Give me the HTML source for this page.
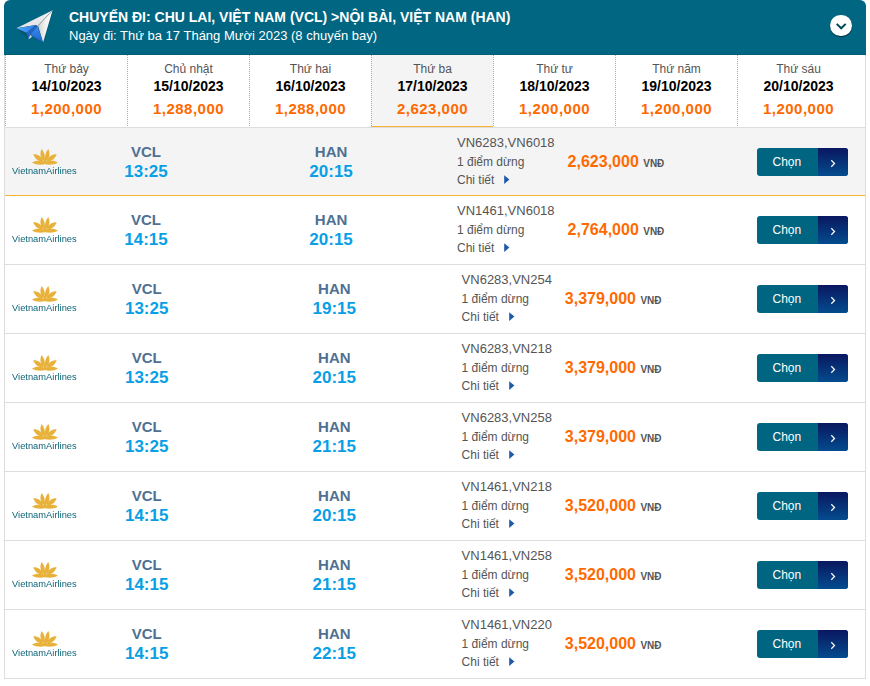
<!DOCTYPE html><html><head><meta charset="utf-8"><style>
*{margin:0;padding:0;box-sizing:border-box}
html,body{width:870px;height:686px;overflow:hidden;background:#fff}
body{position:relative;font-family:"Liberation Sans", sans-serif}
.a{position:absolute;white-space:nowrap}
.c{text-align:center}
#hdr{position:absolute;left:4px;top:0;width:862px;height:55px;background:#006682;border-radius:6px 6px 0 0}
#hdr .bl{position:absolute;left:0;right:0;bottom:0;height:1px;background:#005d78}
.t1{font-size:14px;font-weight:bold;color:#fff;line-height:14px}
.t2{font-size:13px;color:#fff;line-height:13px}
.frame{position:absolute;left:4px;top:55px;width:862px;height:624px;border:1px solid #ddd;border-top:0}
.tab{position:absolute;top:55px;width:122px;height:71px;border-left:1px dotted #aaa}
.dn{font-size:12px;color:#555;line-height:12px}
.dd{font-size:14px;font-weight:bold;color:#000;line-height:14px}
.dp{font-size:15px;font-weight:bold;color:#ff6a00;line-height:15px;letter-spacing:0.5px}
.hl{position:absolute;left:5px;width:860px;height:1px;background:#ddd}
.ap{font-size:15px;font-weight:bold;color:#4f7092;line-height:15px}
.tm{font-size:17px;font-weight:bold;color:#089fe6;line-height:17px}
.fc{font-size:13px;color:#555;line-height:13px}
.fs{font-size:12px;color:#555;line-height:12px}
.pr{font-size:16px;font-weight:bold;color:#ff6a00;line-height:16px}
.vnd{font-size:10px;font-weight:bold;color:#555}
.btn{position:absolute;left:757px;width:91px;height:28px;border-radius:3px;overflow:hidden;background:#006580}
.btn .r{position:absolute;left:61px;top:0;width:30px;height:28px;background:linear-gradient(#0a1760,#034c8e)}
.btn .tx{position:absolute;left:-0.7px;top:0;width:61px;text-align:center;font-size:12px;color:#fff;line-height:28px}
.la{font-size:9.3px;color:#0e6477;line-height:9px;letter-spacing:0.02px;will-change:transform}
</style></head><body>
<div id="hdr"><div class="bl"></div></div>
<svg class="a" style="left:0;top:0" width="60" height="50" viewBox="0 0 60 50">
<defs><linearGradient id="gw" x1="0" y1="0" x2="0.6" y2="1"><stop offset="0" stop-color="#ffffff"/><stop offset="1" stop-color="#dedede"/></linearGradient>
<linearGradient id="gr" x1="0" y1="0" x2="1" y2="0"><stop offset="0" stop-color="#cfcfcf"/><stop offset="0.5" stop-color="#f2f2f2"/><stop offset="1" stop-color="#ffffff"/></linearGradient>
<linearGradient id="gb" x1="0" y1="0" x2="1" y2="0"><stop offset="0" stop-color="#52a8ff"/><stop offset="1" stop-color="#2d7be3"/></linearGradient>
<linearGradient id="gl" x1="0" y1="0" x2="0" y2="1"><stop offset="0" stop-color="#3b8cef"/><stop offset="1" stop-color="#1d62cc"/></linearGradient></defs>
<polygon points="16.9,29 53.2,10.9 43.6,43.4 30.7,35.5 28.8,40.3" fill="#003a4a" opacity="0.3"/>
<polygon points="16.4,28.3 52.6,10.3 37.5,26.3 36.1,25.1" fill="url(#gw)"/>
<polygon points="52.6,10.3 43.1,42.6 38.3,26.5 37.5,26.3" fill="url(#gr)"/>
<polygon points="16.4,28.3 36.1,25.1 26.7,32.7" fill="url(#gb)"/>
<polygon points="26.7,32.7 36.1,25.1 37.5,26.3 30.2,34.7 28.3,39.5" fill="#2463c2"/>
<polygon points="37.5,26.3 43.1,42.6 30.2,34.7" fill="url(#gl)"/>
<polygon points="28.3,39.5 32,36.7 30.2,35.1" fill="#e0e0e0"/>
<line x1="52" y1="11" x2="37.5" y2="26.3" stroke="#8f8f8f" stroke-width="0.7"/>
</svg>
<div class="a t1" style="left:69px;top:10px">CHUYẾN ĐI: CHU LAI, VIỆT NAM (VCL) &gt;NỘI BÀI, VIỆT NAM (HAN)</div>
<div class="a t2" style="left:69px;top:28.5px">Ngày đi: Thứ ba 17 Tháng Mười 2023 (8 chuyến bay)</div>
<div class="a" style="left:830.4px;top:14.6px;width:21.7px;height:21.7px;border-radius:50%;background:#fff;box-shadow:0 1px 1px rgba(0,0,0,.55)"></div>
<svg class="a" style="left:830px;top:14px" width="22" height="22" viewBox="0 0 22 22"><polyline points="6.7,9.9 11.2,14.3 15.7,9.9" fill="none" stroke="#004559" stroke-width="2"/></svg>
<div class="frame"></div>
<div class="hl" style="top:127px"></div>
<div class="tab" style="left:5px"></div>
<div class="a c dn" style="left:6px;width:121px;top:62.5px">Thứ bảy</div>
<div class="a c dd" style="left:6px;width:121px;top:79px">14/10/2023</div>
<div class="a c dp" style="left:6px;width:121px;top:101px">1,200,000</div>
<div class="tab" style="left:127px"></div>
<div class="a c dn" style="left:128px;width:121px;top:62.5px">Chủ nhật</div>
<div class="a c dd" style="left:128px;width:121px;top:79px">15/10/2023</div>
<div class="a c dp" style="left:128px;width:121px;top:101px">1,288,000</div>
<div class="tab" style="left:249px"></div>
<div class="a c dn" style="left:250px;width:121px;top:62.5px">Thứ hai</div>
<div class="a c dd" style="left:250px;width:121px;top:79px">16/10/2023</div>
<div class="a c dp" style="left:250px;width:121px;top:101px">1,288,000</div>
<div class="a" style="left:371px;top:55px;width:122px;height:71px;background:#f4f4f4"></div>
<div class="a" style="left:371px;top:126px;width:122px;height:1px;background:#fbb431"></div>
<div class="tab" style="left:371px"></div>
<div class="a c dn" style="left:372px;width:121px;top:62.5px">Thứ ba</div>
<div class="a c dd" style="left:372px;width:121px;top:79px">17/10/2023</div>
<div class="a c dp" style="left:372px;width:121px;top:101px">2,623,000</div>
<div class="tab" style="left:493px"></div>
<div class="a c dn" style="left:494px;width:121px;top:62.5px">Thứ tư</div>
<div class="a c dd" style="left:494px;width:121px;top:79px">18/10/2023</div>
<div class="a c dp" style="left:494px;width:121px;top:101px">1,200,000</div>
<div class="tab" style="left:615px"></div>
<div class="a c dn" style="left:616px;width:121px;top:62.5px">Thứ năm</div>
<div class="a c dd" style="left:616px;width:121px;top:79px">19/10/2023</div>
<div class="a c dp" style="left:616px;width:121px;top:101px">1,200,000</div>
<div class="tab" style="left:737px"></div>
<div class="a c dn" style="left:738px;width:121px;top:62.5px">Thứ sáu</div>
<div class="a c dd" style="left:738px;width:121px;top:79px">20/10/2023</div>
<div class="a c dp" style="left:738px;width:121px;top:101px">1,200,000</div>
<div class="a" style="left:5px;top:128px;width:860px;height:67px;background:#f4f4f4"></div>
<div class="hl" style="top:195px;background:#fbb431"></div>
<svg class="a" style="left:31.8px;top:148.8px" width="26" height="16" viewBox="0 0 26 16" fill="#e8b23a"><path d="M12.7,12.2 C9.2,10.6 7,6.2 9.5,0.1 C11.8,2.5 13.6,6.5 12.7,12.2 Z"/>
<path d="M13.2,12.2 C16.7,10.6 18.9,6.2 16.4,0.1 C14.1,2.5 12.3,6.5 13.2,12.2 Z"/>
<path d="M12,12.9 C7.5,12.8 3,10.5 1.2,5.3 C5.5,5 10,7.5 12,12.9 Z"/>
<path d="M13.9,12.9 C18.4,12.8 22.9,10.5 24.7,5.3 C20.4,5 15.9,7.5 13.9,12.9 Z"/>
<path d="M12.95,13.6 L12.95,15.3 C8.5,16.2 3.2,15.8 0,13.8 C3.5,11.3 9,11.2 12.95,13.6 Z"/>
<path d="M12.95,13.6 L12.95,15.3 C17.4,16.2 22.7,15.8 25.9,13.8 C22.4,11.3 16.9,11.2 12.95,13.6 Z"/>
<rect x="11.9" y="10" width="2.1" height="4"/></svg>
<div class="a la" style="left:12.3px;top:166.5px">VietnamAirlines</div>
<div class="a c ap" style="left:106px;width:80px;top:143.5px">VCL</div>
<div class="a c tm" style="left:106px;width:80px;top:163px">13:25</div>
<div class="a c ap" style="left:291.1px;width:80px;top:143.5px">HAN</div>
<div class="a c tm" style="left:291.1px;width:80px;top:163px">20:15</div>
<div class="a fc" style="left:457px;top:136px">VN6283,VN6018</div>
<div class="a fs" style="left:457px;top:155.5px">1 điểm dừng</div>
<div class="a fs" style="left:457px;top:174.4px">Chi tiết</div>
<svg class="a" style="left:504px;top:175px" width="6" height="10" viewBox="0 0 6 10"><polygon points="0.2,0.2 5.4,4.6 0.2,9" fill="#1e5aa8"/></svg>
<div class="a pr" style="left:567.6px;top:154px">2,623,000 <span class="vnd">VNĐ</span></div>
<div class="btn" style="top:148px"><div class="tx">Chọn</div><div class="r"></div></div>
<svg class="a" style="left:829px;top:159px" width="8" height="9" viewBox="0 0 8 9"><polyline points="2.3,1.3 5.5,4.5 2.3,7.7" fill="none" stroke="#fff" stroke-width="1.25"/></svg>
<div class="hl" style="top:264px"></div>
<svg class="a" style="left:31.8px;top:216.8px" width="26" height="16" viewBox="0 0 26 16" fill="#e8b23a"><path d="M12.7,12.2 C9.2,10.6 7,6.2 9.5,0.1 C11.8,2.5 13.6,6.5 12.7,12.2 Z"/>
<path d="M13.2,12.2 C16.7,10.6 18.9,6.2 16.4,0.1 C14.1,2.5 12.3,6.5 13.2,12.2 Z"/>
<path d="M12,12.9 C7.5,12.8 3,10.5 1.2,5.3 C5.5,5 10,7.5 12,12.9 Z"/>
<path d="M13.9,12.9 C18.4,12.8 22.9,10.5 24.7,5.3 C20.4,5 15.9,7.5 13.9,12.9 Z"/>
<path d="M12.95,13.6 L12.95,15.3 C8.5,16.2 3.2,15.8 0,13.8 C3.5,11.3 9,11.2 12.95,13.6 Z"/>
<path d="M12.95,13.6 L12.95,15.3 C17.4,16.2 22.7,15.8 25.9,13.8 C22.4,11.3 16.9,11.2 12.95,13.6 Z"/>
<rect x="11.9" y="10" width="2.1" height="4"/></svg>
<div class="a la" style="left:12.3px;top:234.5px">VietnamAirlines</div>
<div class="a c ap" style="left:106px;width:80px;top:211.5px">VCL</div>
<div class="a c tm" style="left:106px;width:80px;top:231px">14:15</div>
<div class="a c ap" style="left:291.1px;width:80px;top:211.5px">HAN</div>
<div class="a c tm" style="left:291.1px;width:80px;top:231px">20:15</div>
<div class="a fc" style="left:457px;top:204px">VN1461,VN6018</div>
<div class="a fs" style="left:457px;top:223.5px">1 điểm dừng</div>
<div class="a fs" style="left:457px;top:242.4px">Chi tiết</div>
<svg class="a" style="left:504px;top:243px" width="6" height="10" viewBox="0 0 6 10"><polygon points="0.2,0.2 5.4,4.6 0.2,9" fill="#1e5aa8"/></svg>
<div class="a pr" style="left:567.6px;top:222px">2,764,000 <span class="vnd">VNĐ</span></div>
<div class="btn" style="top:216px"><div class="tx">Chọn</div><div class="r"></div></div>
<svg class="a" style="left:829px;top:227px" width="8" height="9" viewBox="0 0 8 9"><polyline points="2.3,1.3 5.5,4.5 2.3,7.7" fill="none" stroke="#fff" stroke-width="1.25"/></svg>
<div class="hl" style="top:333px"></div>
<svg class="a" style="left:31.8px;top:285.8px" width="26" height="16" viewBox="0 0 26 16" fill="#e8b23a"><path d="M12.7,12.2 C9.2,10.6 7,6.2 9.5,0.1 C11.8,2.5 13.6,6.5 12.7,12.2 Z"/>
<path d="M13.2,12.2 C16.7,10.6 18.9,6.2 16.4,0.1 C14.1,2.5 12.3,6.5 13.2,12.2 Z"/>
<path d="M12,12.9 C7.5,12.8 3,10.5 1.2,5.3 C5.5,5 10,7.5 12,12.9 Z"/>
<path d="M13.9,12.9 C18.4,12.8 22.9,10.5 24.7,5.3 C20.4,5 15.9,7.5 13.9,12.9 Z"/>
<path d="M12.95,13.6 L12.95,15.3 C8.5,16.2 3.2,15.8 0,13.8 C3.5,11.3 9,11.2 12.95,13.6 Z"/>
<path d="M12.95,13.6 L12.95,15.3 C17.4,16.2 22.7,15.8 25.9,13.8 C22.4,11.3 16.9,11.2 12.95,13.6 Z"/>
<rect x="11.9" y="10" width="2.1" height="4"/></svg>
<div class="a la" style="left:12.3px;top:303.5px">VietnamAirlines</div>
<div class="a c ap" style="left:106.69999999999999px;width:80px;top:280.5px">VCL</div>
<div class="a c tm" style="left:106.69999999999999px;width:80px;top:300px">13:25</div>
<div class="a c ap" style="left:294.3px;width:80px;top:280.5px">HAN</div>
<div class="a c tm" style="left:294.3px;width:80px;top:300px">19:15</div>
<div class="a fc" style="left:461.6px;top:273px">VN6283,VN254</div>
<div class="a fs" style="left:461.6px;top:292.5px">1 điểm dừng</div>
<div class="a fs" style="left:461.6px;top:311.4px">Chi tiết</div>
<svg class="a" style="left:508.6px;top:312px" width="6" height="10" viewBox="0 0 6 10"><polygon points="0.2,0.2 5.4,4.6 0.2,9" fill="#1e5aa8"/></svg>
<div class="a pr" style="left:564.8px;top:291px">3,379,000 <span class="vnd">VNĐ</span></div>
<div class="btn" style="top:285px"><div class="tx">Chọn</div><div class="r"></div></div>
<svg class="a" style="left:829px;top:296px" width="8" height="9" viewBox="0 0 8 9"><polyline points="2.3,1.3 5.5,4.5 2.3,7.7" fill="none" stroke="#fff" stroke-width="1.25"/></svg>
<div class="hl" style="top:402px"></div>
<svg class="a" style="left:31.8px;top:354.8px" width="26" height="16" viewBox="0 0 26 16" fill="#e8b23a"><path d="M12.7,12.2 C9.2,10.6 7,6.2 9.5,0.1 C11.8,2.5 13.6,6.5 12.7,12.2 Z"/>
<path d="M13.2,12.2 C16.7,10.6 18.9,6.2 16.4,0.1 C14.1,2.5 12.3,6.5 13.2,12.2 Z"/>
<path d="M12,12.9 C7.5,12.8 3,10.5 1.2,5.3 C5.5,5 10,7.5 12,12.9 Z"/>
<path d="M13.9,12.9 C18.4,12.8 22.9,10.5 24.7,5.3 C20.4,5 15.9,7.5 13.9,12.9 Z"/>
<path d="M12.95,13.6 L12.95,15.3 C8.5,16.2 3.2,15.8 0,13.8 C3.5,11.3 9,11.2 12.95,13.6 Z"/>
<path d="M12.95,13.6 L12.95,15.3 C17.4,16.2 22.7,15.8 25.9,13.8 C22.4,11.3 16.9,11.2 12.95,13.6 Z"/>
<rect x="11.9" y="10" width="2.1" height="4"/></svg>
<div class="a la" style="left:12.3px;top:372.5px">VietnamAirlines</div>
<div class="a c ap" style="left:106.69999999999999px;width:80px;top:349.5px">VCL</div>
<div class="a c tm" style="left:106.69999999999999px;width:80px;top:369px">13:25</div>
<div class="a c ap" style="left:294.3px;width:80px;top:349.5px">HAN</div>
<div class="a c tm" style="left:294.3px;width:80px;top:369px">20:15</div>
<div class="a fc" style="left:461.6px;top:342px">VN6283,VN218</div>
<div class="a fs" style="left:461.6px;top:361.5px">1 điểm dừng</div>
<div class="a fs" style="left:461.6px;top:380.4px">Chi tiết</div>
<svg class="a" style="left:508.6px;top:381px" width="6" height="10" viewBox="0 0 6 10"><polygon points="0.2,0.2 5.4,4.6 0.2,9" fill="#1e5aa8"/></svg>
<div class="a pr" style="left:564.8px;top:360px">3,379,000 <span class="vnd">VNĐ</span></div>
<div class="btn" style="top:354px"><div class="tx">Chọn</div><div class="r"></div></div>
<svg class="a" style="left:829px;top:365px" width="8" height="9" viewBox="0 0 8 9"><polyline points="2.3,1.3 5.5,4.5 2.3,7.7" fill="none" stroke="#fff" stroke-width="1.25"/></svg>
<div class="hl" style="top:471px"></div>
<svg class="a" style="left:31.8px;top:423.8px" width="26" height="16" viewBox="0 0 26 16" fill="#e8b23a"><path d="M12.7,12.2 C9.2,10.6 7,6.2 9.5,0.1 C11.8,2.5 13.6,6.5 12.7,12.2 Z"/>
<path d="M13.2,12.2 C16.7,10.6 18.9,6.2 16.4,0.1 C14.1,2.5 12.3,6.5 13.2,12.2 Z"/>
<path d="M12,12.9 C7.5,12.8 3,10.5 1.2,5.3 C5.5,5 10,7.5 12,12.9 Z"/>
<path d="M13.9,12.9 C18.4,12.8 22.9,10.5 24.7,5.3 C20.4,5 15.9,7.5 13.9,12.9 Z"/>
<path d="M12.95,13.6 L12.95,15.3 C8.5,16.2 3.2,15.8 0,13.8 C3.5,11.3 9,11.2 12.95,13.6 Z"/>
<path d="M12.95,13.6 L12.95,15.3 C17.4,16.2 22.7,15.8 25.9,13.8 C22.4,11.3 16.9,11.2 12.95,13.6 Z"/>
<rect x="11.9" y="10" width="2.1" height="4"/></svg>
<div class="a la" style="left:12.3px;top:441.5px">VietnamAirlines</div>
<div class="a c ap" style="left:106.69999999999999px;width:80px;top:418.5px">VCL</div>
<div class="a c tm" style="left:106.69999999999999px;width:80px;top:438px">13:25</div>
<div class="a c ap" style="left:294.3px;width:80px;top:418.5px">HAN</div>
<div class="a c tm" style="left:294.3px;width:80px;top:438px">21:15</div>
<div class="a fc" style="left:461.6px;top:411px">VN6283,VN258</div>
<div class="a fs" style="left:461.6px;top:430.5px">1 điểm dừng</div>
<div class="a fs" style="left:461.6px;top:449.4px">Chi tiết</div>
<svg class="a" style="left:508.6px;top:450px" width="6" height="10" viewBox="0 0 6 10"><polygon points="0.2,0.2 5.4,4.6 0.2,9" fill="#1e5aa8"/></svg>
<div class="a pr" style="left:564.8px;top:429px">3,379,000 <span class="vnd">VNĐ</span></div>
<div class="btn" style="top:423px"><div class="tx">Chọn</div><div class="r"></div></div>
<svg class="a" style="left:829px;top:434px" width="8" height="9" viewBox="0 0 8 9"><polyline points="2.3,1.3 5.5,4.5 2.3,7.7" fill="none" stroke="#fff" stroke-width="1.25"/></svg>
<div class="hl" style="top:540px"></div>
<svg class="a" style="left:31.8px;top:492.8px" width="26" height="16" viewBox="0 0 26 16" fill="#e8b23a"><path d="M12.7,12.2 C9.2,10.6 7,6.2 9.5,0.1 C11.8,2.5 13.6,6.5 12.7,12.2 Z"/>
<path d="M13.2,12.2 C16.7,10.6 18.9,6.2 16.4,0.1 C14.1,2.5 12.3,6.5 13.2,12.2 Z"/>
<path d="M12,12.9 C7.5,12.8 3,10.5 1.2,5.3 C5.5,5 10,7.5 12,12.9 Z"/>
<path d="M13.9,12.9 C18.4,12.8 22.9,10.5 24.7,5.3 C20.4,5 15.9,7.5 13.9,12.9 Z"/>
<path d="M12.95,13.6 L12.95,15.3 C8.5,16.2 3.2,15.8 0,13.8 C3.5,11.3 9,11.2 12.95,13.6 Z"/>
<path d="M12.95,13.6 L12.95,15.3 C17.4,16.2 22.7,15.8 25.9,13.8 C22.4,11.3 16.9,11.2 12.95,13.6 Z"/>
<rect x="11.9" y="10" width="2.1" height="4"/></svg>
<div class="a la" style="left:12.3px;top:510.5px">VietnamAirlines</div>
<div class="a c ap" style="left:106.69999999999999px;width:80px;top:487.5px">VCL</div>
<div class="a c tm" style="left:106.69999999999999px;width:80px;top:507px">14:15</div>
<div class="a c ap" style="left:294.3px;width:80px;top:487.5px">HAN</div>
<div class="a c tm" style="left:294.3px;width:80px;top:507px">20:15</div>
<div class="a fc" style="left:461.6px;top:480px">VN1461,VN218</div>
<div class="a fs" style="left:461.6px;top:499.5px">1 điểm dừng</div>
<div class="a fs" style="left:461.6px;top:518.4px">Chi tiết</div>
<svg class="a" style="left:508.6px;top:519px" width="6" height="10" viewBox="0 0 6 10"><polygon points="0.2,0.2 5.4,4.6 0.2,9" fill="#1e5aa8"/></svg>
<div class="a pr" style="left:564.8px;top:498px">3,520,000 <span class="vnd">VNĐ</span></div>
<div class="btn" style="top:492px"><div class="tx">Chọn</div><div class="r"></div></div>
<svg class="a" style="left:829px;top:503px" width="8" height="9" viewBox="0 0 8 9"><polyline points="2.3,1.3 5.5,4.5 2.3,7.7" fill="none" stroke="#fff" stroke-width="1.25"/></svg>
<div class="hl" style="top:609px"></div>
<svg class="a" style="left:31.8px;top:561.8px" width="26" height="16" viewBox="0 0 26 16" fill="#e8b23a"><path d="M12.7,12.2 C9.2,10.6 7,6.2 9.5,0.1 C11.8,2.5 13.6,6.5 12.7,12.2 Z"/>
<path d="M13.2,12.2 C16.7,10.6 18.9,6.2 16.4,0.1 C14.1,2.5 12.3,6.5 13.2,12.2 Z"/>
<path d="M12,12.9 C7.5,12.8 3,10.5 1.2,5.3 C5.5,5 10,7.5 12,12.9 Z"/>
<path d="M13.9,12.9 C18.4,12.8 22.9,10.5 24.7,5.3 C20.4,5 15.9,7.5 13.9,12.9 Z"/>
<path d="M12.95,13.6 L12.95,15.3 C8.5,16.2 3.2,15.8 0,13.8 C3.5,11.3 9,11.2 12.95,13.6 Z"/>
<path d="M12.95,13.6 L12.95,15.3 C17.4,16.2 22.7,15.8 25.9,13.8 C22.4,11.3 16.9,11.2 12.95,13.6 Z"/>
<rect x="11.9" y="10" width="2.1" height="4"/></svg>
<div class="a la" style="left:12.3px;top:579.5px">VietnamAirlines</div>
<div class="a c ap" style="left:106.69999999999999px;width:80px;top:556.5px">VCL</div>
<div class="a c tm" style="left:106.69999999999999px;width:80px;top:576px">14:15</div>
<div class="a c ap" style="left:294.3px;width:80px;top:556.5px">HAN</div>
<div class="a c tm" style="left:294.3px;width:80px;top:576px">21:15</div>
<div class="a fc" style="left:461.6px;top:549px">VN1461,VN258</div>
<div class="a fs" style="left:461.6px;top:568.5px">1 điểm dừng</div>
<div class="a fs" style="left:461.6px;top:587.4px">Chi tiết</div>
<svg class="a" style="left:508.6px;top:588px" width="6" height="10" viewBox="0 0 6 10"><polygon points="0.2,0.2 5.4,4.6 0.2,9" fill="#1e5aa8"/></svg>
<div class="a pr" style="left:564.8px;top:567px">3,520,000 <span class="vnd">VNĐ</span></div>
<div class="btn" style="top:561px"><div class="tx">Chọn</div><div class="r"></div></div>
<svg class="a" style="left:829px;top:572px" width="8" height="9" viewBox="0 0 8 9"><polyline points="2.3,1.3 5.5,4.5 2.3,7.7" fill="none" stroke="#fff" stroke-width="1.25"/></svg>
<div class="hl" style="top:678px"></div>
<svg class="a" style="left:31.8px;top:630.8px" width="26" height="16" viewBox="0 0 26 16" fill="#e8b23a"><path d="M12.7,12.2 C9.2,10.6 7,6.2 9.5,0.1 C11.8,2.5 13.6,6.5 12.7,12.2 Z"/>
<path d="M13.2,12.2 C16.7,10.6 18.9,6.2 16.4,0.1 C14.1,2.5 12.3,6.5 13.2,12.2 Z"/>
<path d="M12,12.9 C7.5,12.8 3,10.5 1.2,5.3 C5.5,5 10,7.5 12,12.9 Z"/>
<path d="M13.9,12.9 C18.4,12.8 22.9,10.5 24.7,5.3 C20.4,5 15.9,7.5 13.9,12.9 Z"/>
<path d="M12.95,13.6 L12.95,15.3 C8.5,16.2 3.2,15.8 0,13.8 C3.5,11.3 9,11.2 12.95,13.6 Z"/>
<path d="M12.95,13.6 L12.95,15.3 C17.4,16.2 22.7,15.8 25.9,13.8 C22.4,11.3 16.9,11.2 12.95,13.6 Z"/>
<rect x="11.9" y="10" width="2.1" height="4"/></svg>
<div class="a la" style="left:12.3px;top:648.5px">VietnamAirlines</div>
<div class="a c ap" style="left:106.69999999999999px;width:80px;top:625.5px">VCL</div>
<div class="a c tm" style="left:106.69999999999999px;width:80px;top:645px">14:15</div>
<div class="a c ap" style="left:294.3px;width:80px;top:625.5px">HAN</div>
<div class="a c tm" style="left:294.3px;width:80px;top:645px">22:15</div>
<div class="a fc" style="left:461.6px;top:618px">VN1461,VN220</div>
<div class="a fs" style="left:461.6px;top:637.5px">1 điểm dừng</div>
<div class="a fs" style="left:461.6px;top:656.4px">Chi tiết</div>
<svg class="a" style="left:508.6px;top:657px" width="6" height="10" viewBox="0 0 6 10"><polygon points="0.2,0.2 5.4,4.6 0.2,9" fill="#1e5aa8"/></svg>
<div class="a pr" style="left:564.8px;top:636px">3,520,000 <span class="vnd">VNĐ</span></div>
<div class="btn" style="top:630px"><div class="tx">Chọn</div><div class="r"></div></div>
<svg class="a" style="left:829px;top:641px" width="8" height="9" viewBox="0 0 8 9"><polyline points="2.3,1.3 5.5,4.5 2.3,7.7" fill="none" stroke="#fff" stroke-width="1.25"/></svg>
</body></html>
